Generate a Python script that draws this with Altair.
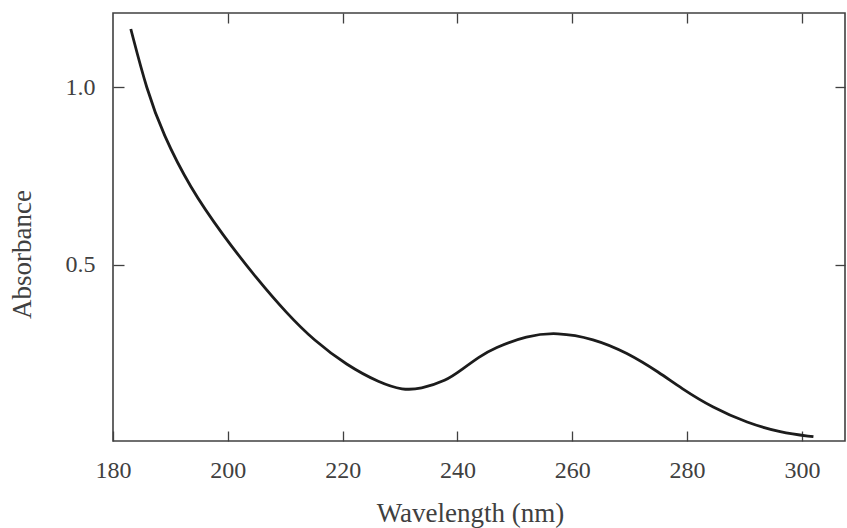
import altair as alt
import pandas as pd

# Absorption spectrum
wavelength = [183.1, 185.9, 188.7, 193.4, 199.2, 205.0, 210.3, 214.9, 220.7,
              226.5, 230.5, 233.5, 238.1, 240.5, 243.9, 246.3, 252.1, 257.3,
              263.7, 269.5, 275.3, 278.8, 284.5, 290.5, 296.2, 302.0]
absorbance = [1.163, 0.990, 0.868, 0.717, 0.582, 0.462, 0.363, 0.289, 0.218,
              0.168, 0.148, 0.151, 0.175, 0.203, 0.243, 0.266, 0.301, 0.311,
              0.293, 0.254, 0.196, 0.155, 0.098, 0.056, 0.029, 0.017]

x_labels = [180, 200, 220, 240, 260, 280, 300]
x_inner_ticks = [200, 220, 240, 260, 280, 300]
y_labels = [0.5, 1.0]

df = pd.DataFrame({"wavelength": wavelength, "absorbance": absorbance})

FONT = "Liberation Serif"
INK = "#404040"
TICK = 10

x_scale = alt.Scale(domain=[180, 307.5], nice=False, zero=False)
y_scale = alt.Scale(domain=[0.005, 1.208], nice=False, zero=False)

# Main trace with the labelled bottom and left axes (ticks pointing inward)
trace = alt.Chart(df).mark_line(
    color="#1c1c1c", strokeWidth=2.8, interpolate="basis"
).encode(
    x=alt.X("wavelength:Q", scale=x_scale, axis=alt.Axis(
        orient="bottom", values=x_labels, offset=-TICK, tickSize=TICK,
        domain=False, grid=False, labelFontSize=24, labelFont=FONT,
        labelColor=INK, labelPadding=17, tickColor=INK, tickWidth=1.3,
        labelFlush=False, labelOverlap=False,
        title="Wavelength (nm)", titleFont=FONT, titleFontSize=27,
        titleFontWeight="normal", titleColor=INK, titleX=357, titleY=82,
        titleBaseline="middle", titleAnchor="middle", titleAlign="center",
    )),
    y=alt.Y("absorbance:Q", scale=y_scale, axis=alt.Axis(
        orient="left", values=y_labels, format=".1f", offset=-TICK - 1,
        tickSize=TICK + 1, domain=False, grid=False, labelFontSize=24,
        labelFont=FONT, labelColor=INK, labelPadding=18, tickColor=INK,
        tickWidth=1.3, labelFlush=False,
        title="Absorbance", titleFont=FONT, titleFontSize=27,
        titleFontWeight="normal", titleColor=INK, titleX=-102, titleY=241,
        titleAngle=270, titleBaseline="middle", titleAlign="center",
    )),
)

# Invisible copy carrying the unlabelled top and right tick marks
mirror = alt.Chart(df).mark_line(strokeOpacity=0).encode(
    x=alt.X("wavelength:Q", scale=x_scale, axis=alt.Axis(
        orient="top", values=x_inner_ticks, offset=-TICK, tickSize=TICK,
        domain=False, grid=False, labels=False, title=None,
        tickColor=INK, tickWidth=1.3,
    )),
    y=alt.Y("absorbance:Q", scale=y_scale, axis=alt.Axis(
        orient="right", values=y_labels, offset=-TICK, tickSize=TICK,
        domain=False, grid=False, labels=False, title=None,
        tickColor=INK, tickWidth=1.3,
    )),
)

chart = alt.layer(trace, mirror).resolve_axis(
    x="independent", y="independent"
).properties(
    width=732, height=428,
    padding={"left": 113, "top": 13, "right": 2, "bottom": 87},
    autosize=alt.AutoSizeParams(type="none"),
    background="white",
).configure_view(
    stroke=INK, strokeWidth=1.6
)

chart.save("out.html", embed_options={"renderer": "svg", "actions": False})
